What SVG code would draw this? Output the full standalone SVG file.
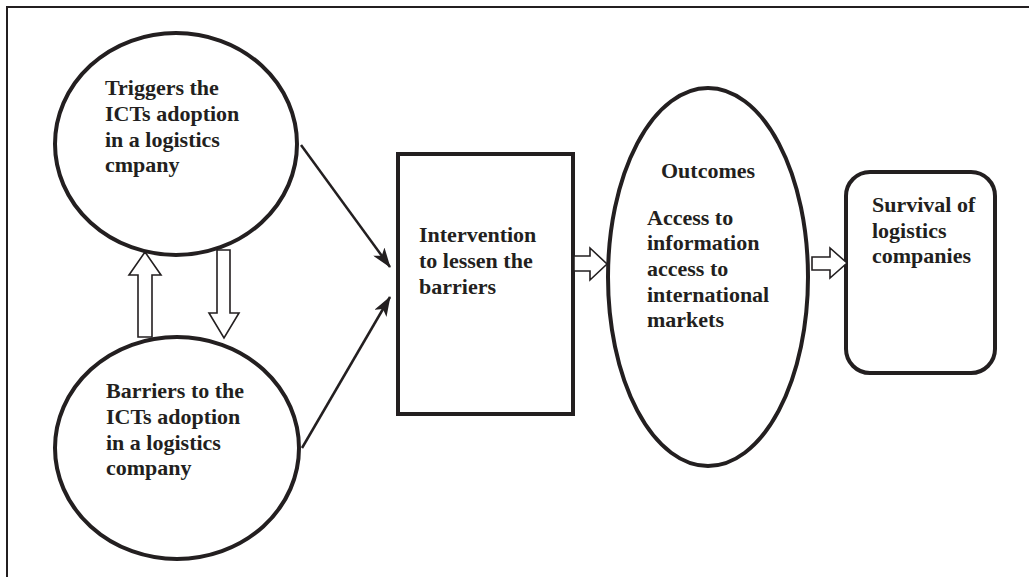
<svg xmlns="http://www.w3.org/2000/svg" width="1029" height="577" viewBox="0 0 1029 577">
<defs>
<style>
.node{fill:#fff;stroke:#231f20;stroke-width:4}
.t{font-family:"Liberation Serif","Times New Roman",serif;font-weight:bold;font-size:22px;fill:#231f20}
.conn{stroke:#231f20;stroke-width:2.5;fill:none}
.hollow{fill:#fff;stroke:#231f20;stroke-width:1.6;stroke-linejoin:miter}
.frame{stroke:#231f20;stroke-width:2;fill:none}
</style>
<marker id="ah" viewBox="0 0 20 14" refX="19" refY="7" markerWidth="20" markerHeight="14" markerUnits="userSpaceOnUse" orient="auto">
<path d="M0,0 L20,7 L0,14 L5,7 Z" fill="#231f20"/>
</marker>
</defs>
<rect width="1029" height="577" fill="#fff"/>
<path class="frame" d="M7,577 L7,7 L1029,7"/>

<g id="triggers">
<ellipse class="node" cx="176" cy="144" rx="121" ry="111"/>
<text class="t" x="105"><tspan x="105" y="95">Triggers the</tspan><tspan x="105" y="121">ICTs adoption</tspan><tspan x="105" y="147">in a logistics</tspan><tspan x="105" y="172">cmpany</tspan></text>
</g>

<g id="barriers">
<ellipse class="node" cx="177" cy="448" rx="122" ry="111"/>
<text class="t"><tspan x="106" y="398">Barriers to the</tspan><tspan x="106" y="424">ICTs adoption</tspan><tspan x="106" y="450">in a logistics</tspan><tspan x="106" y="475">company</tspan></text>
</g>

<g id="intervention">
<rect class="node" x="398" y="154" width="175" height="260"/>
<text class="t"><tspan x="419" y="242">Intervention</tspan><tspan x="419" y="268">to lessen the</tspan><tspan x="419" y="294">barriers</tspan></text>
</g>

<g id="outcomes">
<ellipse class="node" cx="708" cy="277" rx="100" ry="189"/>
<text class="t"><tspan x="708" y="178" text-anchor="middle">Outcomes</tspan><tspan x="647" y="225">Access to</tspan><tspan x="647" y="250">information</tspan><tspan x="647" y="276">access to</tspan><tspan x="647" y="302">international</tspan><tspan x="647" y="327">markets</tspan></text>
</g>

<g id="survival">
<rect class="node" x="846" y="172" width="149" height="201" rx="24" ry="24"/>
<text class="t"><tspan x="872" y="212">Survival of</tspan><tspan x="872" y="238">logistics</tspan><tspan x="872" y="263">companies</tspan></text>
</g>

<g id="connectors">
<line class="conn" x1="301" y1="145" x2="390" y2="267" marker-end="url(#ah)"/>
<line class="conn" x1="302" y1="448" x2="390" y2="297" marker-end="url(#ah)"/>
<path class="hollow" d="M138,337 L138,275 L129,275 L145,252 L161,275 L152,275 L152,337 Z"/>
<path class="hollow" d="M217,250 L230,250 L230,313 L239,313 L224,338 L209,313 L217,313 Z"/>
<path class="hollow" d="M574,256 L590,256 L590,248 L607,264 L590,280 L590,271 L574,271 Z"/>
<path class="hollow" d="M812,257 L830,257 L830,248 L847,263 L830,278 L830,270 L812,270 Z"/>
</g>
</svg>
